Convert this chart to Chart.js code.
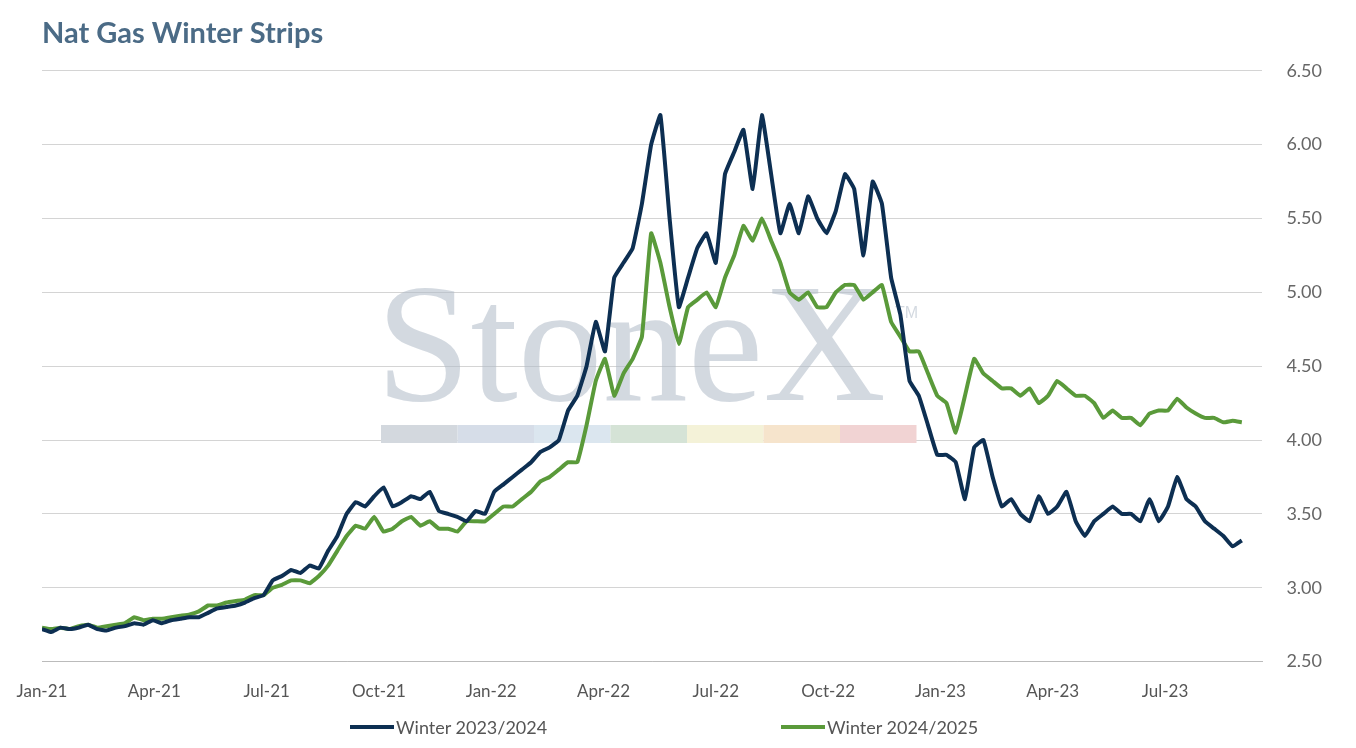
<!DOCTYPE html>
<html>
<head>
<meta charset="utf-8">
<script src="https://cdn.jsdelivr.net/npm/chart.js@4/dist/chart.umd.min.js"></script>
<style>
  html, body { margin: 0; padding: 0; background: #fff; }
  #wrap { width: 1356px; height: 748px; position: relative; }
  .leg { position: absolute; top: 716px; font: 18px Lato, sans-serif; color: #555; display: flex; align-items: center; }
  .leg i { display: inline-block; width: 44px; height: 4px; margin-right: 2px; }
</style>
</head>
<body>
<div id="wrap"><canvas id="chart"></canvas>
  <div class="leg" style="left:350px"><i style="background:#0d2f52"></i>Winter 2023/2024</div>
  <div class="leg" style="left:781px"><i style="background:#5a9a3a"></i>Winter 2024/2025</div>
</div>
<script>
// weekly-ish points, Jan-21 .. early Sep-23 (4 per month, 5 in May-22, Dec-22, Aug-23)
var winter2324 = [
  2.72,2.70,2.73,2.72, 2.73,2.75,2.72,2.71, 2.73,2.74,2.76,2.75,
  2.78,2.76,2.78,2.79, 2.80,2.80,2.83,2.86, 2.87,2.88,2.90,2.93,
  2.95,3.05,3.08,3.12, 3.10,3.15,3.13,3.25, 3.35,3.50,3.58,3.55,
  3.62,3.68,3.55,3.58, 3.62,3.60,3.65,3.52, 3.50,3.48,3.45,3.52,
  3.50,3.65,3.70,3.75, 3.80,3.85,3.92,3.95, 4.00,4.20,4.30,4.50,
  4.80,4.60,5.10,5.20, 5.30,5.60,6.00,6.20,5.50, 4.90,5.10,5.30,5.40,
  5.20,5.80,5.95,6.10, 5.70,6.20,5.80,5.40, 5.60,5.40,5.65,5.50,
  5.40,5.55,5.80,5.70, 5.25,5.75,5.60,5.10, 4.85,4.40,4.30,4.10,3.90,
  3.90,3.85,3.60,3.95, 4.00,3.75,3.55,3.60, 3.50,3.45,3.62,3.50,
  3.55,3.65,3.45,3.35, 3.45,3.50,3.55,3.50, 3.50,3.45,3.60,3.45,
  3.55,3.75,3.60,3.55, 3.45,3.40,3.35,3.28,3.32
];
var winter2425 = [
  2.73,2.72,2.73,2.72, 2.74,2.75,2.73,2.74, 2.75,2.76,2.80,2.78,
  2.79,2.79,2.80,2.81, 2.82,2.84,2.88,2.88, 2.90,2.91,2.92,2.95,
  2.95,3.00,3.02,3.05, 3.05,3.03,3.08,3.15, 3.25,3.35,3.42,3.40,
  3.48,3.38,3.40,3.45, 3.48,3.42,3.45,3.40, 3.40,3.38,3.45,3.45,
  3.45,3.50,3.55,3.55, 3.60,3.65,3.72,3.75, 3.80,3.85,3.85,4.10,
  4.40,4.55,4.30,4.45, 4.55,4.70,5.40,5.20,4.90, 4.65,4.90,4.95,5.00,
  4.90,5.10,5.25,5.45, 5.35,5.50,5.35,5.20, 5.00,4.95,5.00,4.90,
  4.90,5.00,5.05,5.05, 4.95,5.00,5.05,4.80, 4.70,4.60,4.60,4.45,4.30,
  4.25,4.05,4.30,4.55, 4.45,4.40,4.35,4.35, 4.30,4.35,4.25,4.30,
  4.40,4.35,4.30,4.30, 4.25,4.15,4.20,4.15, 4.15,4.10,4.18,4.20,
  4.20,4.28,4.22,4.18, 4.15,4.15,4.12,4.13,4.12
];
var monthSpan = 32.05; // months covered from Jan-21
var tickLabels = ['Jan-21','Apr-21','Jul-21','Oct-21','Jan-22','Apr-22','Jul-22','Oct-22','Jan-23','Apr-23','Jul-23'];

function toPoints(arr) {
  return arr.map(function (v, i) { return { x: i * monthSpan / (arr.length - 1), y: v }; });
}

var watermark = {
  id: 'watermark',
  beforeDatasetsDraw: function (chart) {
    var ctx = chart.ctx;
    ctx.save();
    ctx.fillStyle = 'rgba(175,185,198,0.55)';
    ctx.font = '170px "Liberation Serif", serif';
    ctx.textBaseline = 'alphabetic';
    ctx.fillText('StoneX', 376, 400);
    ctx.font = '16px "Liberation Sans", sans-serif';
    ctx.fillText('TM', 895, 318);
    var cols = ['#d3d8de', '#d6dde8', '#dbe6ef', '#d5e3d6', '#f4f2d8', '#f6e4cc', '#f1d3d3'];
    for (var i = 0; i < cols.length; i++) {
      ctx.fillStyle = cols[i];
      ctx.fillRect(381 + i * 76.5, 425, 76.5, 18);
    }
    ctx.restore();
  }
};

new Chart(document.getElementById('chart').getContext('2d'), {
  type: 'line',
  data: {
    datasets: [{
      label: 'Winter 2023/2024',
      data: toPoints(winter2324),
      borderColor: '#0d2f52',
      borderWidth: 4,
      pointRadius: 0,
      tension: 0.1
    }, {
      label: 'Winter 2024/2025',
      data: toPoints(winter2425),
      borderColor: '#5a9a3a',
      borderWidth: 4,
      pointRadius: 0,
      tension: 0.1
    }]
  },
  options: {
    responsive: true,
    maintainAspectRatio: false,
    animation: false,
    layout: { padding: { left: 42, right: 10, top: 10, bottom: 34 } },
    plugins: {
      title: {
        display: true, text: 'Nat Gas Winter Strips', align: 'start',
        color: '#4b6b86', font: { family: 'Lato', size: 29, weight: 'bold' },
        padding: { top: 6, bottom: 20 }
      },
      legend: { display: false },
      tooltip: { enabled: false }
    },
    scales: {
      x: {
        type: 'linear', min: 0, max: 32.6,
        grid: { display: false },
        border: { color: '#bbb' },
        ticks: {
          stepSize: 3, autoSkip: false, color: '#555', maxRotation: 0,
          font: { family: 'Lato', size: 17 }, padding: 12,
          callback: function (v) { return tickLabels[v / 3] || ''; }
        }
      },
      y: {
        position: 'right', min: 2.5, max: 6.5,
        border: { display: false },
        grid: { color: '#d4d4d4', drawTicks: false },
        ticks: {
          stepSize: 0.5, color: '#666', padding: 24,
          font: { family: 'Lato', size: 18 },
          callback: function (v) { return v.toFixed(2); }
        }
      }
    }
  },
  plugins: [watermark]
});
</script>
</body>
</html>
